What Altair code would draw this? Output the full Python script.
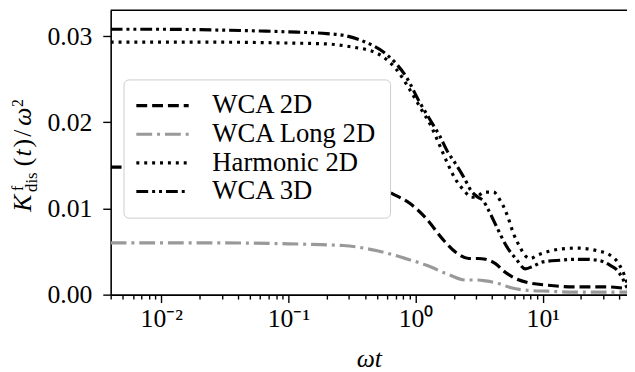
import altair as alt
import pandas as pd

# ---------------- data ----------------
names = ["WCA 2D", "WCA Long 2D", "Harmonic 2D", "WCA 3D"]
colors = ["#000000", "#999999", "#000000", "#000000"]
dashes = [[11, 5], [16, 5, 3, 5], [3, 5], [12, 4, 3, 4, 3, 4]]

wca2d_x = [0.004, 0.01, 0.03, 0.06, 0.1, 0.15, 0.2, 0.3, 0.45, 0.66, 0.9, 1.22, 1.62, 2.08,
           2.62, 3.1, 3.55, 4.25, 5.07, 6.07, 7.65, 10.9, 17.7, 31.9, 40.3, 46]
wca2d_y = [0.0148, 0.0148, 0.0148, 0.0147, 0.0146, 0.0145, 0.0143, 0.0138, 0.0129, 0.0117,
           0.0106, 0.0088, 0.0065, 0.0049, 0.0042, 0.0042, 0.0041, 0.0036, 0.0026, 0.0019,
           0.0014, 0.0011, 0.0009, 0.0009, 0.0008, 0.0007]

long2d_x = [0.004, 0.01, 0.03, 0.1, 0.18, 0.27, 0.5, 0.79, 1.22, 1.84, 2.48, 3.0, 3.55, 4.48,
            5.65, 7.65, 10.9, 17.7, 30, 46]
long2d_y = [0.0060, 0.0060, 0.0060, 0.0059, 0.0058, 0.0057, 0.0051, 0.0043, 0.0034, 0.0023,
            0.0017, 0.0017, 0.0016, 0.0013, 0.0008, 0.0005, 0.0004, 0.0003, 0.0003, 0.0003]

harm_x = [0.004, 0.01, 0.03, 0.1, 0.2, 0.3, 0.5, 0.71, 0.9, 1.1, 1.33, 1.55, 1.8, 2.1, 2.4,
          2.77, 3.13, 3.43, 4.1, 4.64, 5.07, 5.35, 5.85, 6.63, 7.3, 8.0, 9.1, 11, 13.8, 18.7,
          23, 26.7, 33.7, 40.3, 44, 46]
harm_y = [0.0293, 0.0293, 0.0293, 0.0292, 0.0291, 0.0288, 0.0280, 0.0261, 0.0238, 0.0216,
          0.0195, 0.0173, 0.0151, 0.0132, 0.0121, 0.0113, 0.0115, 0.0119, 0.0119, 0.0109,
          0.0098, 0.0089, 0.0072, 0.0055, 0.0045, 0.0042, 0.0046, 0.0050, 0.0053, 0.0054,
          0.0053, 0.0051, 0.0046, 0.0034, 0.0022, 0.0014]

wca3d_x = [0.004, 0.01, 0.03, 0.06, 0.1, 0.2, 0.27, 0.39, 0.6, 0.85, 1.07, 1.3, 1.55, 1.8,
           2.0, 2.4, 2.75, 3.1, 3.4, 3.75, 4.3, 5.2, 6.2, 7.3, 8.4, 10, 13.8, 18, 22.3, 26.7,
           30.3, 34, 38.1, 42, 46]
wca3d_y = [0.0308, 0.0308, 0.0307, 0.0306, 0.0305, 0.0303, 0.0301, 0.0294, 0.0278, 0.0252,
           0.0224, 0.0203, 0.0184, 0.0165, 0.0155, 0.0136, 0.0120, 0.0113, 0.0109, 0.0098,
           0.0080, 0.0056, 0.0041, 0.0030, 0.0033, 0.0038, 0.0040, 0.0041, 0.0041, 0.0040,
           0.0038, 0.0034, 0.0029, 0.0020, 0.0008]

y_ticks = [0.0, 0.01, 0.02, 0.03]
x_major = [0.01, 0.1, 1, 10]
x_minor = [0.004, 0.005, 0.006, 0.007, 0.008, 0.009,
           0.02, 0.03, 0.04, 0.05, 0.06, 0.07, 0.08, 0.09,
           0.2, 0.3, 0.4, 0.5, 0.6, 0.7, 0.8, 0.9,
           2, 3, 4, 5, 6, 7, 8, 9, 20, 30, 40]

# y-axis title pieces: (text, dx along text, dy across, font size, italic)
ytitle_pieces = [
    ("K", 0, 0, 26, True),
    ("f", 21, -8, 16, False),
    ("dis", 20, 6, 17, False),
    ("(", 46, 0, 26, False),
    ("t", 56, 0, 26, True),
    (")", 65, 0, 26, False),
    ("/", 76, 0, 26, False),
    ("ω", 87, 0, 26, True),
    ("2", 106, -8, 16, False),
]

# ---------------- build ----------------
rows = []
for name, xs, ys in [(names[0], wca2d_x, wca2d_y), (names[1], long2d_x, long2d_y),
                     (names[2], harm_x, harm_y), (names[3], wca3d_x, wca3d_y)]:
    for xv, yv in zip(xs, ys):
        rows.append({"series": name, "t": xv, "K": yv})
df = pd.DataFrame(rows)

W, H = 523, 288
FONT = "Liberation Serif"

label_expr = ("abs(datum.value-0.01)<1e-9 ? '10⁻²' : abs(datum.value-0.1)<1e-9 ? '10⁻¹' : "
              "abs(datum.value-1)<1e-9 ? '10⁰' : abs(datum.value-10)<1e-9 ? '10¹' : ''")
major_test = ("abs(datum.value-0.01)<1e-9 || abs(datum.value-0.1)<1e-9 || "
              "abs(datum.value-1)<1e-9 || abs(datum.value-10)<1e-9")

# long horizontal line symbol: path in unit coords scaled by sqrt(size)/2
legend = alt.Legend(
    orient="none", legendX=13, legendY=70, title=None,
    symbolType="M-10,0H10", symbolSize=28.09, symbolStrokeWidth=3.2, symbolOffset=13,
    symbolFillColor="transparent",
    labelFont=FONT, labelFontSize=27, labelColor="black", labelOffset=37, labelLimit=0,
    padding=13, fillColor="white", strokeColor="#cccccc",
    cornerRadius=5, rowPadding=1, zindex=1,
)

lines = alt.Chart(df).mark_line(
    strokeWidth=3.2, strokeCap="butt", interpolate="monotone", clip=True
).encode(
    x=alt.X("t:Q",
            scale=alt.Scale(type="log", domain=[0.004, 46]),
            axis=alt.Axis(values=x_major + x_minor, labelExpr=label_expr,
                          tickSize={"condition": {"test": major_test, "value": 8}, "value": 4.5},
                          tickColor="black", tickWidth=1.4, domainColor="black", domainWidth=1.6,
                          labelFont=FONT, labelFontSize=26, labelColor="black",
                          labelPadding=3, labelFlush=False, labelOverlap=False, grid=False,
                          title="ωt", titleFont=FONT, titleFontSize=26,
                          titleFontStyle="italic", titleFontWeight="normal",
                          titleColor="black", titlePadding=15)),
    y=alt.Y("K:Q",
            scale=alt.Scale(domain=[0, 0.033], nice=False, zero=True),
            axis=alt.Axis(values=y_ticks, format=".2f", tickSize=8, tickColor="black",
                          tickWidth=1.4, domainColor="black", domainWidth=1.6,
                          labelFont=FONT, labelFontSize=26, labelColor="black",
                          labelPadding=11, grid=False, title=None)),
    color=alt.Color("series:N", scale=alt.Scale(domain=names, range=colors), legend=legend),
    strokeDash=alt.StrokeDash("series:N", scale=alt.Scale(domain=names, range=dashes),
                              legend=legend),
)

dummy = pd.DataFrame({"a": [0]})
top_spine = alt.Chart(dummy).mark_rule(color="black", strokeWidth=1.6).encode(
    x=alt.value(0), x2=alt.value(W), y=alt.value(0)
)

title_layers = []
for txt, dx, dy, fs, ital in ytitle_pieces:
    title_layers.append(
        alt.Chart(dummy).mark_text(
            text=txt, angle=270, align="left", baseline="alphabetic",
            dx=dx, dy=dy, fontSize=fs, font=FONT,
            fontStyle="italic" if ital else "normal", color="black",
        ).encode(x=alt.value(-81), y=alt.value(204))
    )

chart = alt.layer(lines, top_spine, *title_layers).properties(
    width=W, height=H,
    padding={"left": 104, "top": 0, "right": 0, "bottom": 76},
    autosize=alt.AutoSizeParams(type="none"),
).configure_view(stroke=None)

chart.save("out.html", embed_options={"renderer": "svg", "actions": False})
